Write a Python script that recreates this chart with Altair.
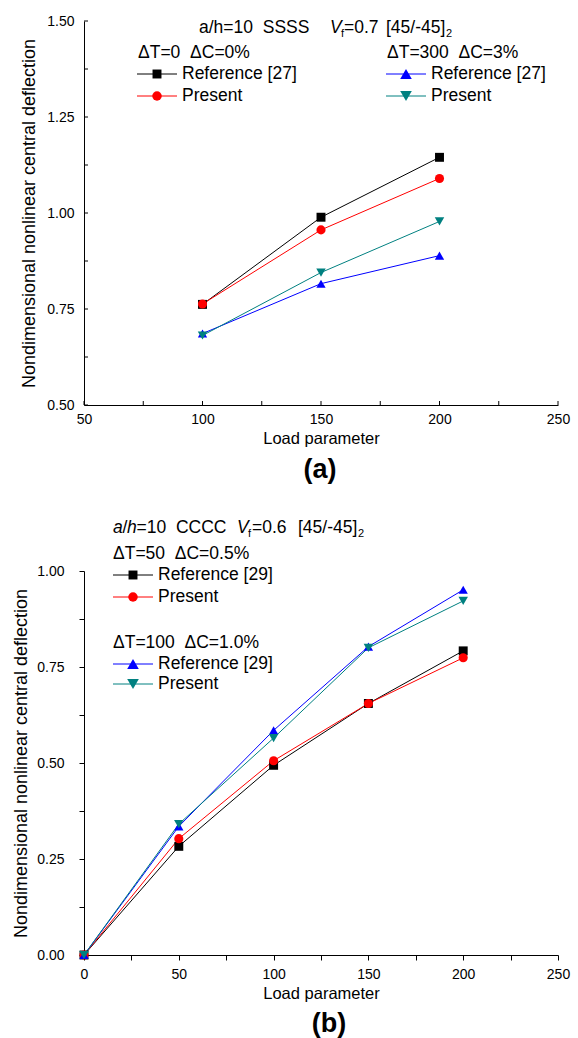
import altair as alt
import pandas as pd

FONT = "Liberation Sans"

# ---------------- data ----------------
loads_a = [100, 150, 200]
a_ref_dt0 = [0.762, 0.989, 1.145]
a_pre_dt0 = [0.763, 0.956, 1.090]
a_ref_dt300 = [0.686, 0.816, 0.889]
a_pre_dt300 = [0.681, 0.845, 0.978]

loads_b = [0, 50, 100, 150, 200]
b_ref_dt50 = [0.0, 0.283, 0.494, 0.655, 0.792]
b_pre_dt50 = [0.0, 0.303, 0.506, 0.655, 0.774]
b_ref_dt100 = [0.0, 0.335, 0.585, 0.803, 0.951]
b_pre_dt100 = [0.0, 0.341, 0.565, 0.800, 0.922]

series_names = ["ref_low", "pre_low", "ref_high", "pre_high"]
series_colors = ["#000000", "#ff0000", "#0000ff", "#008080"]
series_shapes = ["square", "circle", "triangle-up", "triangle-down"]
series_sizes = [80, 90, 135, 135]

a_xticks = [50, 75, 100, 125, 150, 175, 200, 225, 250]
a_yticks = [0.5, 0.625, 0.75, 0.875, 1.0, 1.125, 1.25, 1.375, 1.5]
b_xticks = [0, 25, 50, 75, 100, 125, 150, 175, 200, 225, 250]
b_yticks = [0.0, 0.125, 0.25, 0.375, 0.5, 0.625, 0.75, 0.875, 1.0]

legend_a_head = ["\u0394T=0\u00a0\u00a0\u0394C=0%", "\u0394T=300\u00a0\u00a0\u0394C=3%"]
legend_b_head = ["\u0394T=50\u00a0\u00a0\u0394C=0.5%", "\u0394T=100\u00a0\u00a0\u0394C=1.0%"]
legend_a_labels = ["Reference [27]", "Present"]
legend_b_labels = ["Reference [29]", "Present"]

W, H = 474, 384
Y_TITLE = "Nondimensional nonlinear central deflection"
X_TITLE = "Load parameter"
FS = 17.5


def long_df(loads, cols):
    rows = []
    for name, vals in zip(series_names, cols):
        for x, y in zip(loads, vals):
            rows.append({"load": x, "val": y, "s": name})
    return pd.DataFrame(rows)


df_a = long_df(loads_a, [a_ref_dt0, a_pre_dt0, a_ref_dt300, a_pre_dt300])
df_b = long_df(loads_b, [b_ref_dt50, b_pre_dt50, b_ref_dt100, b_pre_dt100])

color_enc = alt.Color("s:N", scale=alt.Scale(domain=series_names, range=series_colors), legend=None)
shape_enc = alt.Shape("s:N", scale=alt.Scale(domain=series_names, range=series_shapes), legend=None)
size_enc = alt.Size("s:N", scale=alt.Scale(domain=series_names, range=series_sizes), legend=None)

X_LABEL_EXPR = "datum.value % 50 == 0 ? datum.label : ''"
Y_LABEL_EXPR = "abs(datum.value * 4 - round(datum.value * 4)) < 0.001 ? format(datum.value, '.2f') : ''"

ONE = pd.DataFrame({"k": [0]})


def txt(s, x, y, size=FS, italic=False, bold=False, align="left"):
    kw = dict(align=align, baseline="middle", font=FONT, fontSize=size, color="black")
    if italic:
        kw["fontStyle"] = "italic"
    if bold:
        kw["fontWeight"] = "bold"
    return alt.Chart(pd.DataFrame({"t": [s]})).mark_text(**kw).encode(
        text="t:N", x=alt.value(x), y=alt.value(y)
    )


def legend_row(label, x0, y, i):
    color, shape, size = series_colors[i], series_shapes[i], series_sizes[i]
    line = alt.Chart(ONE).mark_rule(color=color, strokeWidth=1).encode(
        x=alt.value(x0), x2=alt.value(x0 + 40), y=alt.value(y)
    )
    pt = alt.Chart(ONE).mark_point(filled=True, opacity=1, shape=shape, size=size, color=color).encode(
        x=alt.value(x0 + 20), y=alt.value(y)
    )
    return [line, pt, txt(label, x0 + 45, y)]


def panel_layers(df, xs, ys, xaxis, yaxis, xticks, yticks, inward):
    x = alt.X("load:Q", scale=xs, axis=xaxis, title=X_TITLE)
    y = alt.Y("val:Q", scale=ys, axis=yaxis, title=Y_TITLE)
    line = alt.Chart(df).mark_line(strokeWidth=1).encode(x=x, y=y, color=color_enc)
    pts = alt.Chart(df).mark_point(filled=True, opacity=1).encode(
        x=x, y=y, color=color_enc, shape=shape_enc, size=size_enc,
    )
    layers = [line, pts]
    if inward:
        tx = alt.Chart(pd.DataFrame({"load": xticks})).mark_rule(color="black", strokeWidth=1).encode(
            x=x, y=alt.value(H), y2=alt.value(H - 4)
        )
        ty = alt.Chart(pd.DataFrame({"val": yticks})).mark_rule(color="black", strokeWidth=1).encode(
            y=y, x=alt.value(0), x2=alt.value(4)
        )
        layers = [tx, ty] + layers
    return layers


# ---------------- panel (a) ----------------
xs_a = alt.Scale(domain=[50, 250], nice=False, zero=False)
ys_a = alt.Scale(domain=[0.5, 1.5], nice=False, zero=False)
xaxis_a = alt.Axis(values=a_xticks, labelExpr=X_LABEL_EXPR, ticks=False, labelPadding=7,
                   titlePadding=4, labelFlush=False, labelOverlap=False, titleFontSize=16.5)
yaxis_a = alt.Axis(values=a_yticks, labelExpr=Y_LABEL_EXPR, ticks=False, labelPadding=10,
                   titlePadding=8, labelFlush=False, labelOverlap=False, titleFontSize=18)

layers_a = panel_layers(df_a, xs_a, ys_a, xaxis_a, yaxis_a, a_xticks, a_yticks, True)
layers_a += [
    txt("a/h=10\u00a0\u00a0SSSS", 115, 7),
    txt("V", 246, 7, italic=True),
    txt("f", 257, 13, size=11),
    txt("=0.7", 260, 7),
    txt("[45/-45]", 302, 7),
    txt("2", 362, 13, size=11),
]
layers_a += [txt(legend_a_head[0], 54, 32), txt(legend_a_head[1], 303, 32)]
layers_a += legend_row(legend_a_labels[0], 53, 53, 0)
layers_a += legend_row(legend_a_labels[1], 53, 75, 1)
layers_a += legend_row(legend_a_labels[0], 302, 53, 2)
layers_a += legend_row(legend_a_labels[1], 302, 75, 3)
layers_a += [txt("(a)", 236, 449, size=27, bold=True, align="center")]

panel_a = alt.layer(*layers_a).properties(width=W, height=H)

# ---------------- panel (b) ----------------
xs_b = alt.Scale(domain=[0, 250], nice=False)
ys_b = alt.Scale(domain=[0, 1.0], nice=False)
xaxis_b = alt.Axis(values=b_xticks, labelExpr=X_LABEL_EXPR, tickSize=5, labelPadding=7,
                   titlePadding=4, labelFlush=False, labelOverlap=False, titleFontSize=16.5)
yaxis_b = alt.Axis(values=b_yticks, labelExpr=Y_LABEL_EXPR, tickSize=5, labelPadding=15,
                   titlePadding=6, labelFlush=False, labelOverlap=False, titleFontSize=18)

layers_b = panel_layers(df_b, xs_b, ys_b, xaxis_b, yaxis_b, b_xticks, b_yticks, False)
layers_b += [
    txt("a", 29, -43, italic=True),
    txt("/", 38.5, -43),
    txt("h", 43, -43, italic=True),
    txt("=10\u00a0\u00a0CCCC", 52.5, -43),
    txt("V", 153, -43, italic=True),
    txt("f", 164, -37, size=11),
    txt("=0.6", 168, -43),
    txt("[45/-45]", 214, -43),
    txt("2", 274, -37, size=11),
]
layers_b += [txt(legend_b_head[0], 29, -17), txt(legend_b_head[1], 29, 72)]
layers_b += legend_row(legend_b_labels[0], 29, 4, 0)
layers_b += legend_row(legend_b_labels[1], 29, 26, 1)
layers_b += legend_row(legend_b_labels[0], 29, 93, 2)
layers_b += legend_row(legend_b_labels[1], 29, 113, 3)
layers_b += [txt("(b)", 245, 453, size=27, bold=True, align="center")]

panel_b = alt.layer(*layers_b).properties(width=W, height=H)

chart = (
    alt.vconcat(panel_a, panel_b, spacing=166, bounds="flush")
    .properties(padding={"left": 12, "top": 13, "right": 5, "bottom": 5})
    .configure_view(stroke="transparent")
    .configure_axis(
        domainColor="black", domainWidth=1, tickColor="black", tickWidth=1,
        labelColor="black", titleColor="black", labelFont=FONT, titleFont=FONT,
        labelFontSize=14, grid=False, titleFontWeight="normal",
    )
)

chart.save("out.html", embed_options={"renderer": "svg", "actions": False})
